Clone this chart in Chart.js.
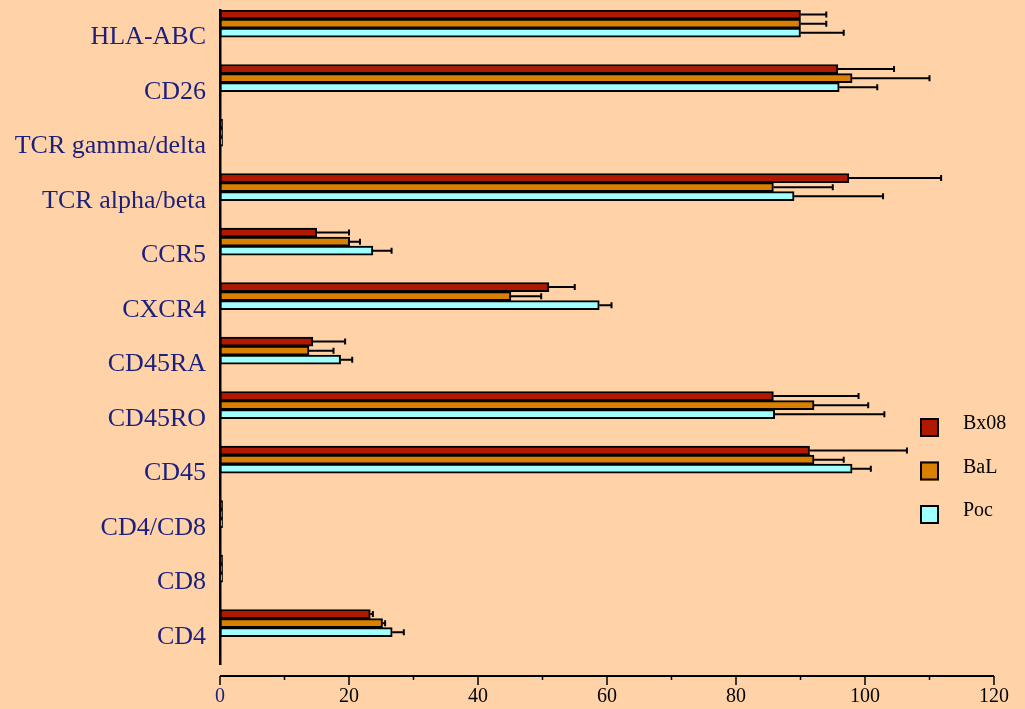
<!DOCTYPE html>
<html>
<head>
<meta charset="utf-8">
<title>Surface marker expression</title>
<script src="https://cdn.jsdelivr.net/npm/chart.js@4/dist/chart.umd.min.js"></script>
<style>
  html, body { margin: 0; padding: 0; background: #FFD3A7; }
  #wrap { width: 1025px; height: 709px; }
</style>
</head>
<body>
<div id="wrap"><canvas id="chart" width="1025" height="709"></canvas></div>
<script>
// Markers, top to bottom
const markers = ['HLA-ABC', 'CD26', 'TCR gamma/delta', 'TCR alpha/beta', 'CCR5', 'CXCR4',
                 'CD45RA', 'CD45RO', 'CD45', 'CD4/CD8', 'CD8', 'CD4'];

// Percent positive cells per isolate
const bx08 = [90, 95.8, 0.4, 97.5, 15, 51, 14.4, 85.8, 91.4, 0.4, 0.4, 23.3];
const bal  = [90, 98, 0.4, 85.8, 20.1, 45.1, 13.8, 92.1, 92.1, 0.4, 0.4, 25.2];
const poc  = [90, 96, 0.4, 89, 23.7, 58.8, 18.7, 86, 98, 0.4, 0.4, 26.7];

// Standard deviations (upper error bar)
const bx08Sd = [4, 8.7, 0, 14.3, 5, 4, 5, 13.2, 15.1, 0, 0, 0.4];
const balSd  = [4, 12, 0, 9.2, 1.6, 4.7, 3.8, 8.4, 4.6, 0, 0, 0.4];
const pocSd  = [6.7, 5.9, 0, 13.8, 2.9, 1.9, 1.8, 17, 2.9, 0, 0, 1.8];

// Axis ticks
const xTicks = [0, 20, 40, 60, 80, 100, 120];

const seriesNames = ['Bx08', 'BaL', 'Poc'];
const seriesValues = [bx08, bal, poc];
const seriesSd = [bx08Sd, balSd, pocSd];
const seriesColors = ['#B01800', '#D98000', '#A0FFFF'];

const serif = "'Liberation Serif', 'Times New Roman', serif";
const navy = '#1B1F7E';

const datasets = seriesNames.map((name, i) => ({
  label: name,
  data: seriesValues[i],
  backgroundColor: seriesColors[i],
  borderColor: '#000',
  borderWidth: 2,
  borderSkipped: false
}));
// Empty slots keep each group in the upper half of its band
for (let k = 0; k < 3; k++) {
  datasets.push({ label: '', data: [], backgroundColor: 'rgba(0,0,0,0)', borderWidth: 0 });
}

const errorBars = {
  id: 'errorBars',
  afterDatasetsDraw(chart) {
    const ctx = chart.ctx;
    const xs = chart.scales.x;
    ctx.save();
    ctx.strokeStyle = '#000';
    ctx.lineWidth = 2;
    seriesValues.forEach((vals, i) => {
      const meta = chart.getDatasetMeta(i);
      meta.data.forEach((bar, j) => {
        const sd = seriesSd[i][j];
        if (!sd) return;
        const x0 = xs.getPixelForValue(vals[j]);
        const x1 = xs.getPixelForValue(vals[j] + sd);
        const y = bar.y;
        ctx.beginPath();
        ctx.moveTo(x0, y);
        ctx.lineTo(x1, y);
        ctx.moveTo(x1, y - 3);
        ctx.lineTo(x1, y + 3);
        ctx.stroke();
      });
    });
    ctx.restore();
  }
};

const valueAxis = {
  id: 'valueAxis',
  afterDraw(chart) {
    const ctx = chart.ctx;
    const xs = chart.scales.x;
    const y = chart.chartArea.bottom + 12;
    ctx.save();
    ctx.strokeStyle = '#000';
    ctx.lineWidth = 2;
    ctx.beginPath();
    ctx.moveTo(xs.getPixelForValue(xTicks[0]), y);
    ctx.lineTo(xs.getPixelForValue(xTicks[xTicks.length - 1]), y);
    ctx.stroke();
    ctx.lineWidth = 1.5;
    for (let v = xTicks[0]; v <= xTicks[xTicks.length - 1]; v += 10) {
      const x = xs.getPixelForValue(v);
      const len = (v % 20 === 0) ? 9 : 4;
      ctx.beginPath();
      ctx.moveTo(x, y);
      ctx.lineTo(x, y + len);
      ctx.stroke();
    }
    ctx.restore();
  }
};

const sideLegend = {
  id: 'sideLegend',
  afterDraw(chart) {
    const ctx = chart.ctx;
    const area = chart.chartArea;
    const left = area.right - 74;
    const top0 = 418;
    const gap = 43.5;
    const size = 19;
    ctx.save();
    ctx.font = '20px ' + serif;
    ctx.textBaseline = 'middle';
    seriesNames.forEach((name, i) => {
      const top = top0 + i * gap;
      ctx.fillStyle = seriesColors[i];
      ctx.fillRect(left, top, size, size);
      ctx.strokeStyle = '#000';
      ctx.lineWidth = 2;
      ctx.strokeRect(left + 1, top + 1, size - 2, size - 2);
      ctx.fillStyle = '#000';
      ctx.fillText(name, left + 43, top + 6);
    });
    ctx.restore();
  }
};

new Chart(document.getElementById('chart'), {
  type: 'bar',
  data: { labels: markers, datasets },
  options: {
    indexAxis: 'y',
    responsive: false,
    animation: false,
    layout: { padding: { top: 10, right: 31, left: 0, bottom: 0 } },
    datasets: { bar: { categoryPercentage: 1, barPercentage: 1 } },
    plugins: { legend: { display: false }, tooltip: { enabled: false } },
    scales: {
      x: {
        min: xTicks[0],
        max: xTicks[xTicks.length - 1],
        afterBuildTicks(scale) { scale.ticks = xTicks.map(v => ({ value: v })); },
        ticks: {
          padding: 21,
          font: { family: serif, size: 20 },
          color: (c) => (c.tick && c.tick.value === 0) ? navy : '#000'
        },
        grid: { display: false, drawTicks: false },
        border: { display: false },
        afterFit(scale) {
          scale.height = 45;
          scale.paddingLeft = 0;
          scale.paddingRight = 0;
        }
      },
      y: {
        ticks: {
          padding: 14,
          font: { family: serif, size: 26 },
          color: navy
        },
        grid: { display: false, drawTicks: false },
        border: { display: true, color: '#000', width: 2.5 },
        afterFit(scale) {
          scale.width = 220;
          scale.paddingTop = 0;
          scale.paddingBottom = 0;
        }
      }
    }
  },
  plugins: [errorBars, valueAxis, sideLegend]
});
</script>
</body>
</html>
